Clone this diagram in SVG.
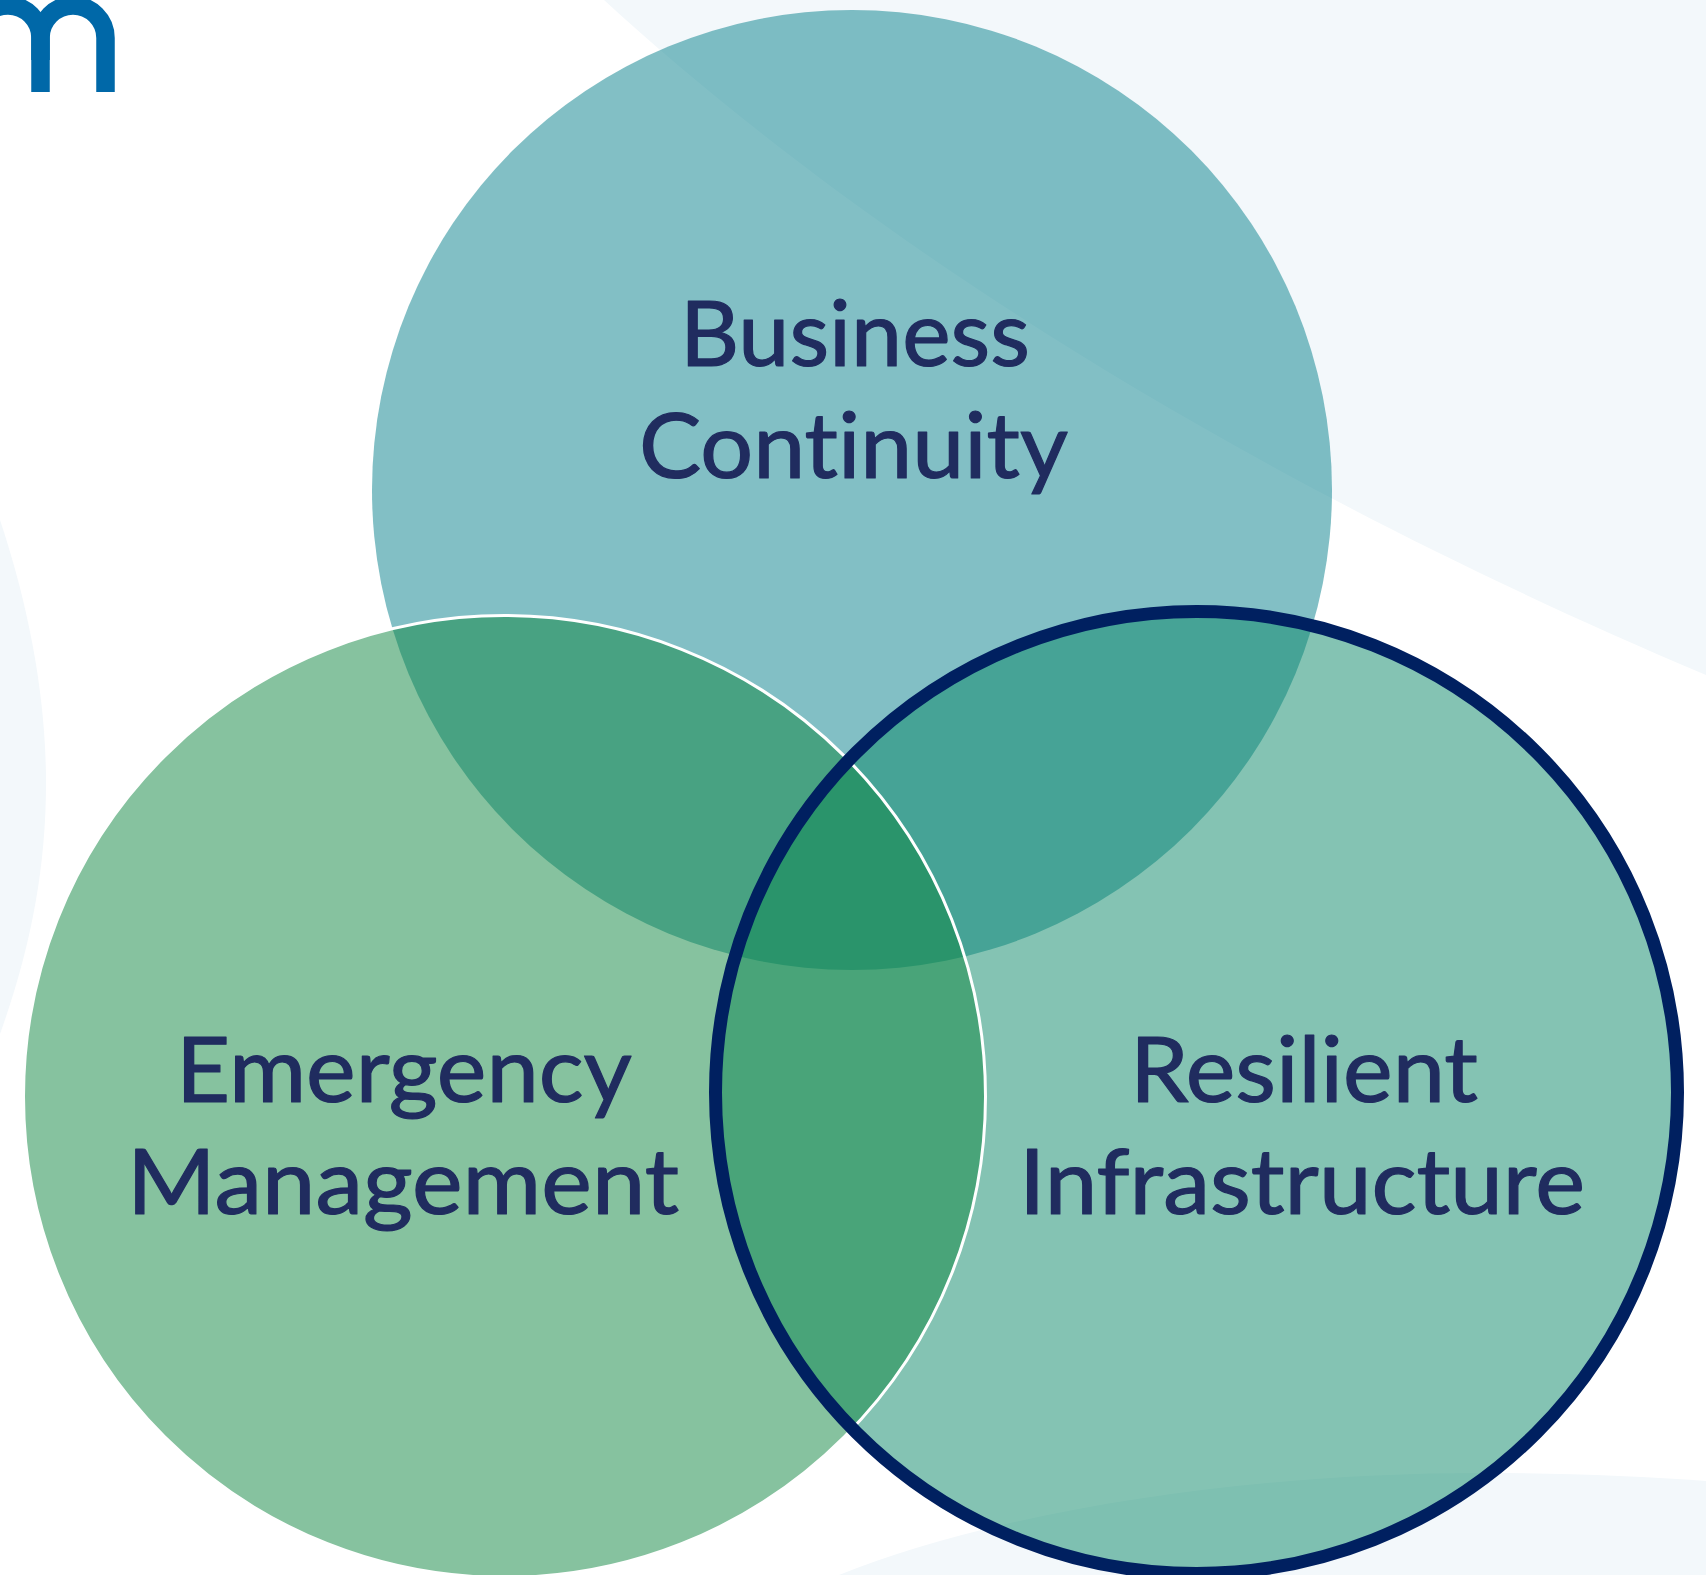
<svg xmlns="http://www.w3.org/2000/svg" width="1706" height="1575" viewBox="0 0 1706 1575">
<style>
.bg{fill:#f3f8fb}
.lbl{font-family:"Lato","Open Sans","Liberation Sans",sans-serif;font-size:91px;fill:#202c5f;stroke:#202c5f;stroke-width:1.2;stroke-linejoin:round;font-variant-ligatures:none}
.logo{fill:none;stroke:#0068a8;stroke-width:18.5}
</style>
<rect width="1706" height="1575" fill="#ffffff"/>
<g id="background">
<path class="bg" d="M604 0C800 180 1150 440 1706 675V0Z"/>
<path class="bg" d="M0 520C30 610 46 700 46 783C46 870 30 950 0 1034Z"/>
<path class="bg" d="M839 1575C1000 1510 1250 1473 1480 1473C1560 1473 1640 1476 1706 1481V1575Z"/>
</g>
<g id="logo">
<path class="logo" d="M40.500 92V38A32.500 32.500 0 0 1 105.500 38V92"/>
<path class="logo" d="M-24.500 38A32.500 32.500 0 0 1 40.500 38V60"/>
</g>
<g id="node-business-continuity">
<circle cx="852" cy="490" r="480" fill="#05808b" fill-opacity="0.5"/>
<text class="lbl" x="680" y="366" textLength="350" lengthAdjust="spacingAndGlyphs">Business</text>
<text class="lbl" x="639" y="478" textLength="429" lengthAdjust="spacingAndGlyphs">Continuity</text>
</g>
<g id="node-resilient-infrastructure">
<circle cx="1196.500" cy="1092.500" r="481" fill="#0a8768" fill-opacity="0.5"/>
<text class="lbl" x="1130" y="1102" textLength="348" lengthAdjust="spacingAndGlyphs">Resilient</text>
<text class="lbl" x="1019" y="1214" textLength="566" lengthAdjust="spacingAndGlyphs">Infrastructure</text>
</g>
<g id="node-emergency-management">
<circle cx="504.500" cy="1096.500" r="481" fill="#0d853f" fill-opacity="0.5" stroke="#ffffff" stroke-width="3"/>
<text class="lbl" x="176" y="1102" textLength="456" lengthAdjust="spacingAndGlyphs">Emergency</text>
<text class="lbl" x="127" y="1214" textLength="552" lengthAdjust="spacingAndGlyphs">Management</text>
</g>
<g id="resilient-outline">
<circle cx="1196.500" cy="1092.500" r="481" fill="none" stroke="#002060" stroke-width="13"/>
</g>
</svg>
